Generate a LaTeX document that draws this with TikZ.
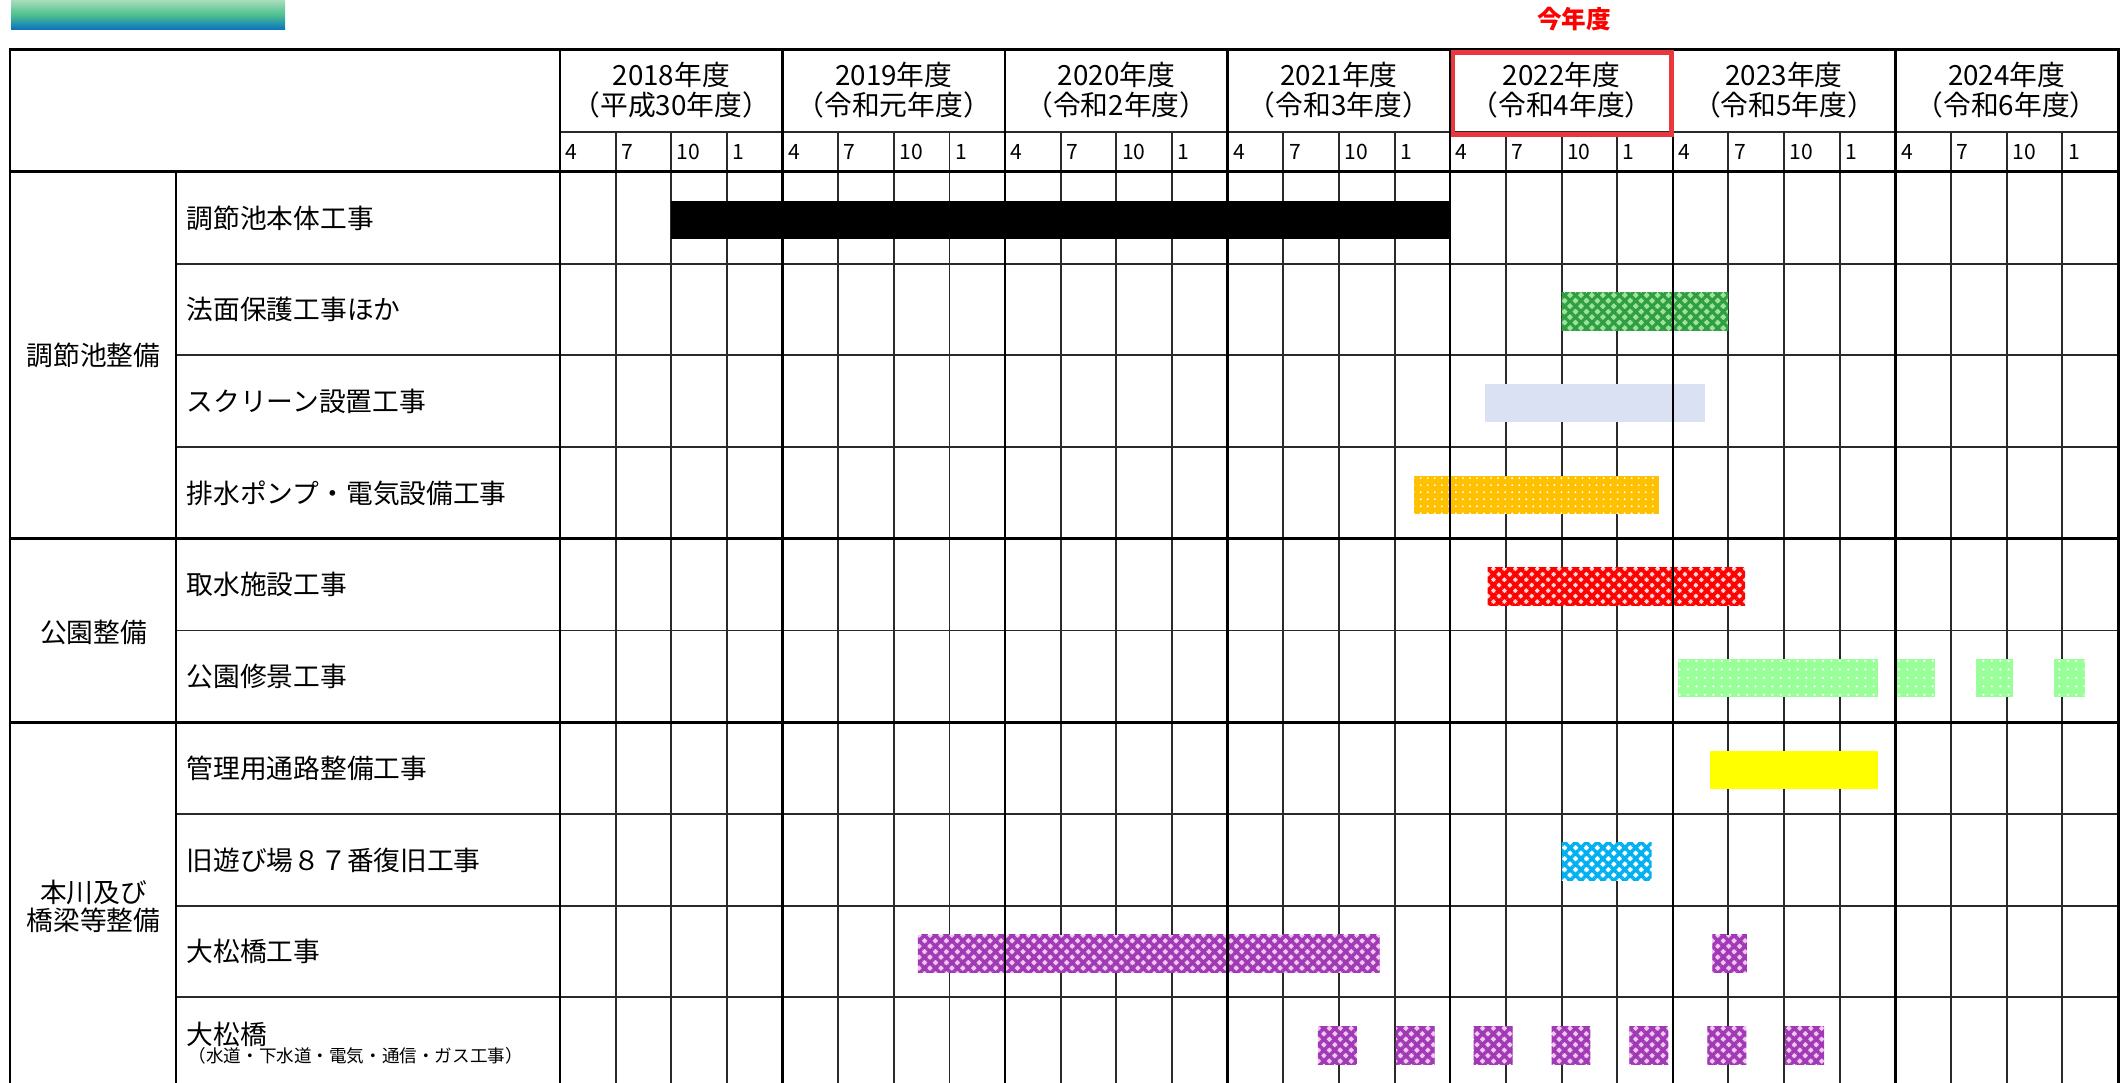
\documentclass[tikz,border=0pt]{standalone}
\usepackage{fontspec}
\setmainfont{Noto Sans CJK JP}
\usetikzlibrary{patterns.meta}

\definecolor{slopegreen}{HTML}{2E9E40}
\definecolor{slopelight}{HTML}{9DE39D}
\definecolor{screenblue}{HTML}{D9E1F2}
\definecolor{pumporange}{HTML}{FFC000}
\definecolor{intakered}{HTML}{FF0000}
\definecolor{intakelight}{HTML}{FFD9D9}
\definecolor{parkgreen}{HTML}{99FF99}
\definecolor{roadyellow}{HTML}{FFFF00}
\definecolor{playblue}{HTML}{00B0F0}
\definecolor{bridgepurple}{HTML}{A03AB4}
\definecolor{bridgelight}{HTML}{F3C6F3}
\definecolor{boxred}{HTML}{E8383D}
\definecolor{gridgray}{HTML}{2A2A2A}

% x of a quarter column, bar drawn from the top of its row
\newcommand{\qx}[1]{560+55.64*(#1)}
\newcommand{\ganttbar}[4]{\path[#1] ({\qx{#3}},{#2+29}) rectangle ({\qx{#4}},{#2+67});}

\begin{document}
\begin{tikzpicture}[x=0.01cm, y=-0.01cm,
    frameline/.style={line width=0.85pt, black},
    gridline/.style={line width=0.55pt, gridgray},
    yearline/.style={line width=0.7pt, black},
    yearlabel/.style={align=center, inner sep=0pt, font=\fontsize{7.9}{6.6}\selectfont},
    monthlabel/.style={anchor=west, inner sep=0pt, font=\fontsize{6}{6}\selectfont},
    itemlabel/.style={anchor=west, inner sep=0pt, font=\fontsize{7.6}{9}\selectfont},
    catlabel/.style={align=center, inner sep=0pt, font=\fontsize{7.6}{8}\selectfont},
    blackbar/.style={fill=black},
    slopebar/.style={preaction={fill=slopelight}, pattern={Hatch[angle=45,distance=2.2pt,line width=0.9pt]}, pattern color=slopegreen},
    screenbar/.style={fill=screenblue},
    pumpbar/.style={preaction={fill=pumporange}, pattern={Dots[radius=0.3pt,distance=2pt]}, pattern color=white},
    intakebar/.style={preaction={fill=intakelight}, pattern={Hatch[angle=45,distance=2.2pt,line width=1.1pt]}, pattern color=intakered},
    parkbar/.style={preaction={fill=parkgreen}, pattern={Dots[radius=0.35pt,distance=2.4pt]}, pattern color=white},
    roadbar/.style={fill=roadyellow},
    playbar/.style={preaction={fill=white}, pattern={Hatch[angle=45,distance=2.2pt,line width=1pt]}, pattern color=playblue},
    bridgebar/.style={preaction={fill=bridgelight}, pattern={Hatch[angle=45,distance=2.2pt,line width=1pt]}, pattern color=bridgepurple}]
    \useasboundingbox (0,0) rectangle (2127,1083);

    % title bar
    \shade[top color={rgb,255:red,168;green,222;blue,187}, bottom color={rgb,255:red,7;green,112;blue,194}, middle color={rgb,255:red,76;green,191;blue,142}] (11,0) rectangle (285,30);

    % grid
    \foreach \q in {1,...,27} \draw[gridline] ({\qx{\q}},132) -- ({\qx{\q}},1083);
    \foreach \y in {263.7,355.4,447.1,630.5,813.9,905.6,997.3} \draw[gridline] (176,\y) -- (2118,\y);
    \draw[gridline] (560,132) -- (2118,132);

    % bars
    \ganttbar{blackbar}{172}{2}{16}
    \ganttbar{slopebar}{263.7}{18}{21}
    \ganttbar{screenbar}{355.4}{16.62}{20.58}
    \ganttbar{pumpbar}{447.1}{15.35}{19.75}
    \ganttbar{intakebar}{538.8}{16.67}{21.3}
    \ganttbar{parkbar}{630.5}{20.1}{23.68}
    \ganttbar{parkbar}{630.5}{24}{24.72}
    \ganttbar{parkbar}{630.5}{25.45}{26.12}
    \ganttbar{parkbar}{630.5}{26.85}{27.4}
    \ganttbar{roadbar}{722.2}{20.67}{23.69}
    \ganttbar{playbar}{813.9}{18}{19.62}
    \ganttbar{bridgebar}{905.6}{6.43}{14.73}
    \ganttbar{bridgebar}{905.6}{20.71}{21.33}
    \foreach \i in {0,...,6} {\ganttbar{bridgebar}{997.3}{13.62+1.4*\i}{14.32+1.4*\i}}

    % frame
    \foreach \q in {4,8,...,24} \draw[yearline] ({\qx{\q}},50) -- ({\qx{\q}},1083);
    \draw[yearline] (176,172) -- (176,1083);
    \draw[yearline] (560,50) -- (560,1083);
    \draw[frameline] (10,1083) -- (10,50) -- (2118,50) -- (2118,1083);
    \draw[frameline] (10,172) -- (2118,172);
    \draw[frameline] (10,538.8) -- (2118,538.8);
    \draw[frameline] (10,722.2) -- (2118,722.2);

    % this year
    \draw[boxred, line width=1.4pt] (1453,52.5) rectangle (1671.5,134.5);
    \node[text=red, font=\fontsize{7}{8}\selectfont\bfseries, inner sep=0pt] (now) at (1574,19) {今年度};

    % year and month heads
    \foreach \yr/\era [count=\k from 0] in {2018/平成30年度, 2019/令和元年度, 2020/令和2年度, 2021/令和3年度, 2022/令和4年度, 2023/令和5年度, 2024/令和6年度} {
        \node[yearlabel] (y\yr) at ({\qx{4*\k+2}},90) {\yr 年度\\（\era）};
        \foreach \m [count=\j from 0] in {4,7,10,1}
            \node[monthlabel] (m\yr-\j) at ({\qx{4*\k+\j}+5},152) {\m};
    }

    % categories
    \node[catlabel] (c1) at (93.5,355) {調節池整備};
    \node[catlabel] (c2) at (93.5,632) {公園整備};
    \node[catlabel] (c3) at (93.5,906) {本川及び\\橋梁等整備};

    % works
    \node[itemlabel] (r1) at (186,218) {調節池本体工事};
    \node[itemlabel] (r2) at (186,309.7) {法面保護工事ほか};
    \node[itemlabel] (r3) at (186,401.4) {スクリーン設置工事};
    \node[itemlabel] (r4) at (186,493.1) {排水ポンプ・電気設備工事};
    \node[itemlabel] (r5) at (186,584.8) {取水施設工事};
    \node[itemlabel] (r6) at (186,676.5) {公園修景工事};
    \node[itemlabel] (r7) at (186,768.2) {管理用通路整備工事};
    \node[itemlabel] (r8) at (186,859.9) {旧遊び場８７番復旧工事};
    \node[itemlabel] (r9) at (186,951.6) {大松橋工事};
    \node[itemlabel] (r10) at (186,1034) {大松橋};
    \node[itemlabel, font=\fontsize{5}{6}\selectfont] (r10b) at (188,1056) {（水道・下水道・電気・通信・ガス工事）};
\end{tikzpicture}
\end{document}
